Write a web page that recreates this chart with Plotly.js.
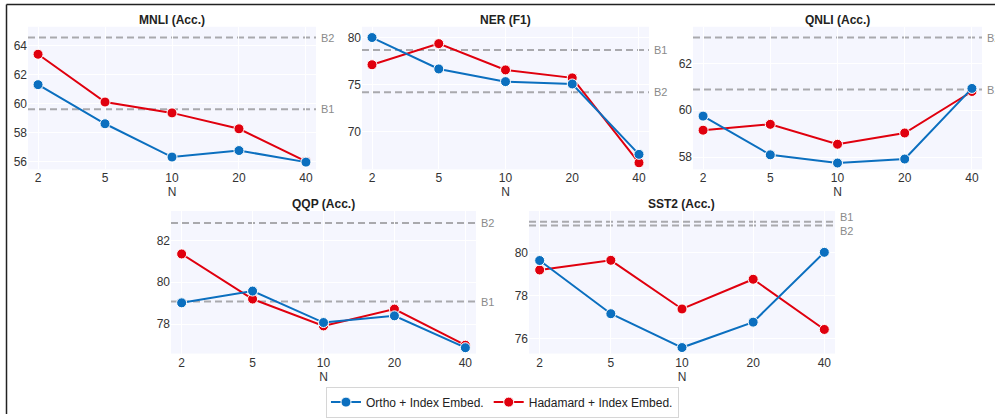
<!DOCTYPE html>
<html>
<head>
<meta charset="utf-8">
<script src="https://cdn.plot.ly/plotly-3.0.1.min.js"></script>
<style>html,body{margin:0;padding:0;background:#fff;}#chart{width:995px;height:418px;}</style>
</head>
<body>
<div id="chart"></div>
<script>
// ---- data ----
const Ns = ['2', '5', '10', '20', '40'];
const panelTitles = ['MNLI (Acc.)', 'NER (F1)', 'QNLI (Acc.)', 'QQP (Acc.)', 'SST2 (Acc.)'];
const seriesNames = ['Ortho + Index Embed.', 'Hadamard + Index Embed.'];

const mnliOrtho    = [61.3, 58.6, 56.3, 56.75, 55.95];
const mnliHadamard = [63.4, 60.1, 59.35, 58.25, 56.0];
const nerOrtho     = [80.0, 76.65, 75.3, 75.05, 67.55];
const nerHadamard  = [77.1, 79.35, 76.55, 75.7, 66.65];
const qnliOrtho    = [59.75, 58.1, 57.75, 57.92, 60.93];
const qnliHadamard = [59.15, 59.4, 58.55, 59.03, 60.8];
const qqpOrtho     = [79.02, 79.58, 78.08, 78.4, 76.88];
const qqpHadamard  = [81.35, 79.2, 77.92, 78.72, 77.0];
const sst2Ortho    = [79.62, 77.15, 75.58, 76.76, 80.0];
const sst2Hadamard = [79.18, 79.63, 77.37, 78.75, 76.42];

const baselineB1 = [59.6, 78.67, 60.88, 79.08, 81.42];
const baselineB2 = [64.55, 74.18, 63.1, 82.82, 81.24];

const orthoAll = [mnliOrtho, nerOrtho, qnliOrtho, qqpOrtho, sst2Ortho];
const hadaAll = [mnliHadamard, nerHadamard, qnliHadamard, qqpHadamard, sst2Hadamard];

// ---- layout helpers ----
const W = 995, H = 418;
const px = v => v / W;
const py = v => 1 - v / H;
const boxes = [ // [left, right, top, bottom] in px
  [28, 316, 27, 171],
  [362, 649, 27, 171],
  [693, 982, 27, 171],
  [171, 476, 213, 357],
  [529, 835, 213, 357]
];
const yRanges = [[55.45, 65.3], [65.95, 81.15], [57.48, 63.56], [76.6, 83.4], [75.3, 81.92]];
const yDticks = [2, 5, 2, 2, 2];
const colors = ['#0b6fbf', '#e0000e'];
const labelShift = [[0, 0], [0, 0], [0, 0], [0, 0], [5, -5]];

const traces = [];
const layout = {
  width: W, height: H,
  margin: {l: 0, r: 0, t: 0, b: 0},
  paper_bgcolor: '#ffffff',
  plot_bgcolor: '#f5f6fe',
  font: {family: 'Liberation Sans, Arial, sans-serif', size: 12, color: '#333'},
  showlegend: true,
  legend: {
    orientation: 'h', x: 0.505, xanchor: 'center', y: py(406), yanchor: 'middle',
    bgcolor: '#ffffff', bordercolor: '#d6d6d6', borderwidth: 1,
    font: {size: 12, color: '#222'}
  },
  shapes: [], annotations: []
};

boxes.forEach((b, i) => {
  const n = i + 1;
  const xa = 'xaxis' + (n === 1 ? '' : n);
  const ya = 'yaxis' + (n === 1 ? '' : n);
  const xr = 'x' + (n === 1 ? '' : n);
  const yr = 'y' + (n === 1 ? '' : n);
  layout[xa] = {
    domain: [px(b[0]), px(b[1])], anchor: yr, type: 'category',
    range: [-0.15, 4.15], showgrid: true, gridcolor: '#ffffff', gridwidth: 1,
    zeroline: false, showline: false, ticks: '', tickfont: {size: 12, color: '#333'},
    title: {text: 'N', font: {size: 12, color: '#333'}, standoff: 2}
  };
  layout[ya] = {
    domain: [py(b[3]), py(b[2])], anchor: xr, range: yRanges[i], dtick: yDticks[i],
    showgrid: true, gridcolor: '#ffffff', gridwidth: 1, zeroline: false, showline: false,
    ticks: '', tickfont: {size: 12, color: '#333'}
  };
  [[baselineB1[i], 'B1', labelShift[i][0]], [baselineB2[i], 'B2', labelShift[i][1]]].forEach(([v, lab, sh]) => {
    layout.shapes.push({
      type: 'line', xref: xr + ' domain', yref: yr, x0: 0, x1: 1, y0: v, y1: v,
      line: {color: '#a9a9ad', width: 2, dash: '7px,4px'}, layer: 'below'
    });
    layout.annotations.push({
      xref: xr + ' domain', yref: yr, x: 1, y: v, xanchor: 'left', yanchor: 'middle',
      xshift: 3, yshift: sh, text: lab, showarrow: false, font: {size: 11, color: '#8a8a8a'}
    });
  });
  layout.annotations.push({
    xref: 'paper', yref: 'paper', x: (px(b[0]) + px(b[1])) / 2, y: py(b[2] - 7),
    xanchor: 'center', yanchor: 'middle', text: '<b>' + panelTitles[i] + '</b>',
    showarrow: false, font: {size: 12, color: '#222'}
  });
  // red first so blue is drawn on top, legend order kept via legendrank
  [[hadaAll[i], 1], [orthoAll[i], 0]].forEach(([vals, s]) => {
    traces.push({
      type: 'scatter', mode: 'lines+markers', x: Ns, y: vals, xaxis: xr, yaxis: yr,
      name: seriesNames[s], legendgroup: 's' + s, legendrank: s + 1, showlegend: i === 0,
      line: {color: colors[s], width: 2},
      marker: {color: colors[s], size: 10, line: {color: '#ffffff', width: 1}}
    });
  });
});

// frame lines
layout.shapes.push({type: 'line', xref: 'paper', yref: 'paper', x0: px(6.5), x1: 1, y0: py(4.5), y1: py(4.5), line: {color: '#222', width: 1.5}});
layout.shapes.push({type: 'line', xref: 'paper', yref: 'paper', x0: px(6.5), x1: px(6.5), y0: py(4.5), y1: 0, line: {color: '#222', width: 1.5}});

Plotly.newPlot('chart', traces, layout, {staticPlot: true});
</script>
</body>
</html>
